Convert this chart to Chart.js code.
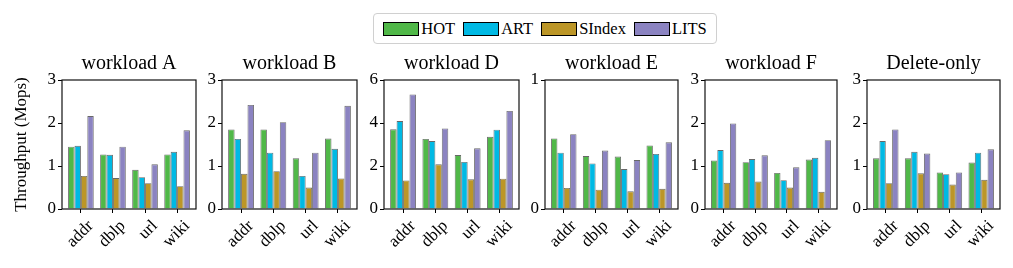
<!DOCTYPE html>
<html>
<head>
<meta charset="utf-8">
<script src="https://cdn.jsdelivr.net/npm/chart.js@4.4.0/dist/chart.umd.min.js"></script>
<style>
    body { margin: 0; background: #fff; }
    #wrap { position: relative; width: 1013px; height: 268px; overflow: hidden; }
    .panel { position: absolute; top: 0; height: 268px; }
    #legend {
        position: absolute; left: 373px; top: 13px; width: 342px; height: 29px;
        border: 1px solid #d0d0d0; border-radius: 4px;
        display: flex; align-items: center; justify-content: center;
        font-family: 'Liberation Serif', serif; font-size: 16.5px; color: #000;
    }
    .item { display: flex; align-items: center; margin: 0 4px; }
    .patch { width: 34px; height: 12px; border: 1px solid #000; margin-right: 2px; }
</style>
</head>
<body>
<div id="wrap">
    <div id="legend"></div>
</div>
<script>
// 데이터
const categories = ['addr', 'dblp', 'url', 'wiki'];
const seriesNames = ['HOT', 'ART', 'SIndex', 'LITS'];
const seriesColors = ['#50b848', '#00b9e4', '#bc9627', '#8b83c1'];
const titles = ['workload A', 'workload B', 'workload D', 'workload E', 'workload F', 'Delete-only'];
const yMax = [3, 3, 6, 1, 3, 3];
const yStep = [1, 1, 2, 1, 1, 1];

// rows: HOT, ART, SIndex, LITS / cols: addr, dblp, url, wiki
const workloadA = [[1.45, 1.27, 0.91, 1.27], [1.47, 1.26, 0.74, 1.33], [0.77, 0.72, 0.60, 0.53], [2.16, 1.45, 1.04, 1.83]];
const workloadB = [[1.85, 1.85, 1.18, 1.64], [1.63, 1.31, 0.77, 1.40], [0.82, 0.88, 0.50, 0.71], [2.42, 2.02, 1.31, 2.40]];
const workloadD = [[3.71, 3.26, 2.51, 3.36], [4.09, 3.16, 2.19, 3.69], [1.33, 2.08, 1.38, 1.41], [5.33, 3.75, 2.82, 4.56]];
const workloadE = [[0.547, 0.41, 0.407, 0.493], [0.437, 0.353, 0.31, 0.427], [0.163, 0.15, 0.137, 0.157], [0.58, 0.453, 0.38, 0.517]];
const workloadF = [[1.13, 1.09, 0.84, 1.15], [1.37, 1.16, 0.67, 1.19], [0.61, 0.64, 0.50, 0.40], [1.99, 1.25, 0.97, 1.60]];
const deleteOnly = [[1.18, 1.18, 0.85, 1.08], [1.58, 1.33, 0.81, 1.31], [0.60, 0.83, 0.57, 0.68], [1.85, 1.29, 0.85, 1.39]];
const panelData = [workloadA, workloadB, workloadD, workloadE, workloadF, deleteOnly];

// 레이아웃
const panelLeft = [62, 222, 384, 545, 705, 867];
const panelWidth = [134, 135, 135, 133, 132, 133];
const FONT = 'Liberation Serif';

// 범례
const legendEl = document.getElementById('legend');
seriesNames.forEach((name, i) => {
    const item = document.createElement('div');
    item.className = 'item';
    item.innerHTML = `<span class="patch" style="background:${seriesColors[i]}"></span>${name}`;
    legendEl.appendChild(item);
});

// 박스 테두리
const boxPlugin = {
    id: 'box',
    afterDraw(chart) {
        const a = chart.chartArea;
        const ctx = chart.ctx;
        ctx.save();
        ctx.strokeStyle = '#111';
        ctx.lineWidth = 1.2;
        ctx.strokeRect(a.left, a.top, a.right - a.left, a.bottom - a.top);
        ctx.restore();
    }
};

const wrap = document.getElementById('wrap');
panelData.forEach((rows, p) => {
    const yw = p === 0 ? 62 : 40;
    const rightPad = 10;
    const div = document.createElement('div');
    div.className = 'panel';
    div.style.left = (panelLeft[p] - yw) + 'px';
    div.style.width = (yw + panelWidth[p] + rightPad) + 'px';
    const canvas = document.createElement('canvas');
    div.appendChild(canvas);
    wrap.appendChild(div);

    new Chart(canvas.getContext('2d'), {
        type: 'bar',
        data: {
            datasets: rows.map((vals, s) => ({
                label: seriesNames[s],
                data: vals.map((v, i) => ({ x: i, y: v })),
                backgroundColor: seriesColors[s],
                borderColor: 'rgba(40,40,40,0.7)',
                borderWidth: 0.9,
                categoryPercentage: 0.8,
                barPercentage: 1.0
            }))
        },
        options: {
            responsive: true,
            maintainAspectRatio: false,
            animation: false,
            layout: { padding: { left: 0, right: rightPad, top: 0, bottom: 0 } },
            plugins: {
                legend: { display: false },
                tooltip: { enabled: false },
                title: {
                    display: true,
                    fullSize: false,
                    text: titles[p],
                    color: '#000',
                    font: { family: FONT, size: 20, weight: 'normal' },
                    padding: { top: 52, bottom: 4 }
                }
            },
            scales: {
                x: {
                    type: 'linear',
                    offset: false,
                    min: -0.59,
                    max: 3.59,
                    grid: { display: true, offset: false, drawOnChartArea: false, drawTicks: true, tickLength: 4, color: '#000' },
                    border: { display: false },
                    afterBuildTicks: (scale) => { scale.ticks = categories.map((c, i) => ({ value: i })); },
                    ticks: {
                        autoSkip: false,
                        minRotation: 45,
                        maxRotation: 45,
                        labelOffset: 10,
                        padding: 3,
                        color: '#000',
                        font: { family: FONT, size: 17 },
                        callback: (v) => categories[v]
                    },
                    afterFit: (scale) => { scale.height = 59; }
                },
                y: {
                    min: 0,
                    max: yMax[p],
                    grid: { display: true, drawOnChartArea: false, drawTicks: true, tickLength: 4, color: '#000' },
                    border: { display: false },
                    ticks: {
                        stepSize: yStep[p],
                        padding: 2,
                        color: '#000',
                        font: { family: FONT, size: 17 }
                    },
                    title: {
                        display: p === 0,
                        text: 'Throughput (Mops)',
                        color: '#000',
                        font: { family: FONT, size: 17 },
                        padding: { top: 11, bottom: 0 }
                    },
                    afterFit: (scale) => { scale.width = yw; }
                }
            }
        },
        plugins: [boxPlugin]
    });
});
</script>
</body>
</html>
